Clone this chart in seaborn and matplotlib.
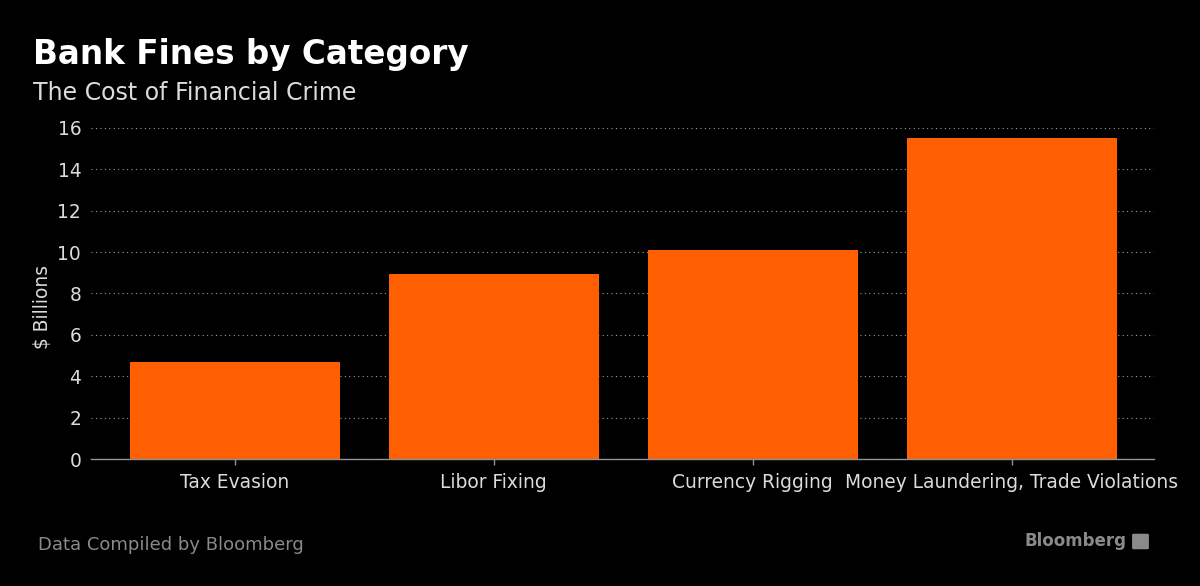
import pandas as pd
import numpy as np
import matplotlib.pyplot as plt
import matplotlib.ticker as ticker
import matplotlib.patches as mpatches
import seaborn as sns

categories = ["Tax Evasion", "Libor Fixing", "Currency Rigging",
              "Money Laundering, Trade Violations"]
fines = [4.7, 8.95, 10.1, 15.5]
yticks = [0, 2, 4, 6, 8, 10, 12, 14, 16]

df = pd.DataFrame({"Category": categories, "Fines": fines})

sns.set_theme(style="dark")
sns.set_style({"axes.facecolor": "black", "figure.facecolor": "black"})
plt.rcParams["font.family"] = ["DejaVu Sans"]

TEXT = "#dcdcdc"
ORANGE = "#ff5f00"

f = plt.figure(figsize=(12, 5.86), dpi=100)
ax = f.add_axes([0.0758, 0.2167, 0.886, 0.565])

sns.barplot(data=df, x="Category", y="Fines", color=ORANGE, width=0.81,
            saturation=1, linewidth=0, edgecolor="none", ax=ax)

ax.set_ylim(0, 16)
ax.set_xlim(-0.556, 3.55)
ax.yaxis.set_major_locator(ticker.FixedLocator(yticks))
ax.grid(axis="y", color="#9a9a9a", linestyle=(0, (1, 3)), linewidth=0.8)
ax.set_axisbelow(True)

for s in ["top", "right", "left"]:
    ax.spines[s].set_visible(False)
ax.spines["bottom"].set_color("#8e949c")
ax.spines["bottom"].set_linewidth(1)

ax.tick_params(axis="x", colors="#8e949c", length=4, width=1, labelcolor=TEXT,
               labelsize=13.4, pad=6, bottom=True)
ax.tick_params(axis="y", length=0, labelcolor=TEXT, labelsize=13.4, pad=7)
ax.set_xlabel("")
ax.set_ylabel("$ Billions", color=TEXT, fontsize=13.4)
ax.yaxis.set_label_coords(-0.037, 0.46)

f.text(0.0275, 0.89, "Bank Fines by Category", color="white", fontsize=23.5,
       fontweight="bold", va="baseline")
f.text(0.0275, 0.83, "The Cost of Financial Crime", color=TEXT, fontsize=17,
       va="baseline")
f.text(0.032, 0.062, "Data Compiled by Bloomberg", color="#8a8a8a",
       fontsize=13, va="baseline")
f.text(0.939, 0.068, "Bloomberg", color="#8a8a8a", fontsize=12,
       fontweight="bold", ha="right", va="baseline")
f.patches.append(mpatches.FancyBboxPatch(
    (1134 / 1200, 1 - 548 / 586), 13 / 1200, 13 / 586,
    boxstyle="round,pad=0.001", color="#8a8a8a", transform=f.transFigure))

f.savefig("out.png", dpi=100, facecolor="black")
